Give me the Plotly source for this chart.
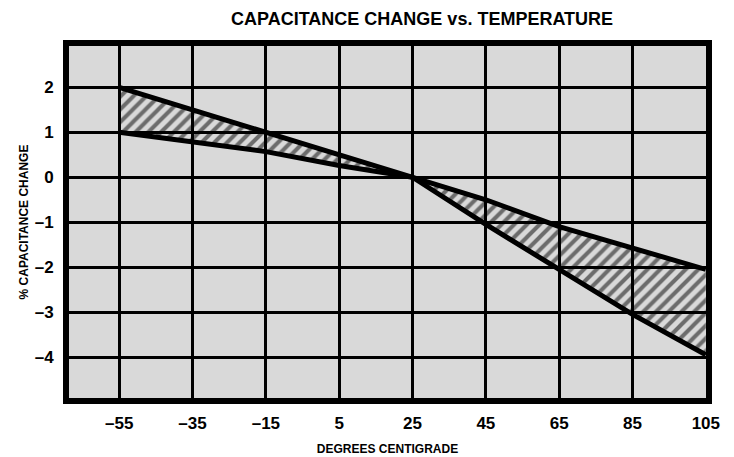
import plotly.graph_objects as go

# Data
temperature = [-55, -35, -15, 5, 25, 45, 65, 85, 105]
upper_limit = [2.0, 1.5, 1.0, 0.5, 0.0, -0.5, -1.1, -1.57, -2.05]
lower_limit = [1.0, 0.78, 0.57, 0.26, 0.0, -1.05, -2.05, -3.05, -3.95]

x_ticks = [-55, -35, -15, 5, 25, 45, 65, 85, 105]
x_ticktext = ["–55", "–35", "–15", "5", "25", "45", "65", "85", "105"]
y_ticks = [2, 1, 0, -1, -2, -3, -4]
y_ticktext = ["2", "1", "0", "–1", "–2", "–3", "–4"]

FONT = "Liberation Sans, Arial, sans-serif"

fig = go.Figure()

# hatched band
fig.add_trace(go.Scatter(
    x=temperature + temperature[::-1],
    y=upper_limit + lower_limit[::-1],
    mode="lines",
    line=dict(width=0, color="black"),
    fill="toself",
    fillcolor="rgba(0,0,0,0)",
    fillpattern=dict(shape="/", fgcolor="black", bgcolor="rgba(0,0,0,0)",
                     size=9, solidity=0.45),
    hoverinfo="skip",
    showlegend=False,
))
fig.add_trace(go.Scatter(x=temperature, y=upper_limit, mode="lines",
                         line=dict(color="black", width=5), showlegend=False))
fig.add_trace(go.Scatter(x=temperature, y=lower_limit, mode="lines",
                         line=dict(color="black", width=5), showlegend=False))

fig.update_layout(
    width=734, height=457,
    margin=dict(l=69, r=28, t=46, b=59, autoexpand=False),
    paper_bgcolor="white",
    plot_bgcolor="#d9d9d9",
    title=dict(text="CAPACITANCE CHANGE vs. TEMPERATURE",
               x=0.575, xanchor="center", y=0.958, yanchor="middle",
               font=dict(family=FONT, size=18, color="black", weight="bold")),
    font=dict(family=FONT, color="black"),
)

fig.update_xaxes(
    range=[-68.7, 105.05], automargin=False,
    tickvals=x_ticks, ticktext=x_ticktext,
    tickfont=dict(family=FONT, size=17, color="black", weight="bold"),
    showgrid=True, gridcolor="black", gridwidth=3,
    showline=True, linecolor="black", linewidth=6, mirror=True,
    zeroline=False, ticks="", ticklabelstandoff=5,
    title=dict(text="DEGREES CENTIGRADE",
               font=dict(family=FONT, size=12, color="black", weight="bold"),
               standoff=14),
)
fig.update_yaxes(
    range=[-4.91, 2.92], automargin=False,
    tickvals=y_ticks, ticktext=y_ticktext,
    tickfont=dict(family=FONT, size=17, color="black", weight="bold"),
    showgrid=True, gridcolor="black", gridwidth=3,
    showline=True, linecolor="black", linewidth=6, mirror=True,
    zeroline=False, ticks="", ticklabelstandoff=6,
    title=dict(text="% CAPACITANCE CHANGE",
               font=dict(family=FONT, size=12, color="black", weight="bold"),
               standoff=5),
)

fig.write_html("out.html",
               config={"displayModeBar": False},
               post_script="document.body.style.margin='0';document.body.style.padding='0';")
